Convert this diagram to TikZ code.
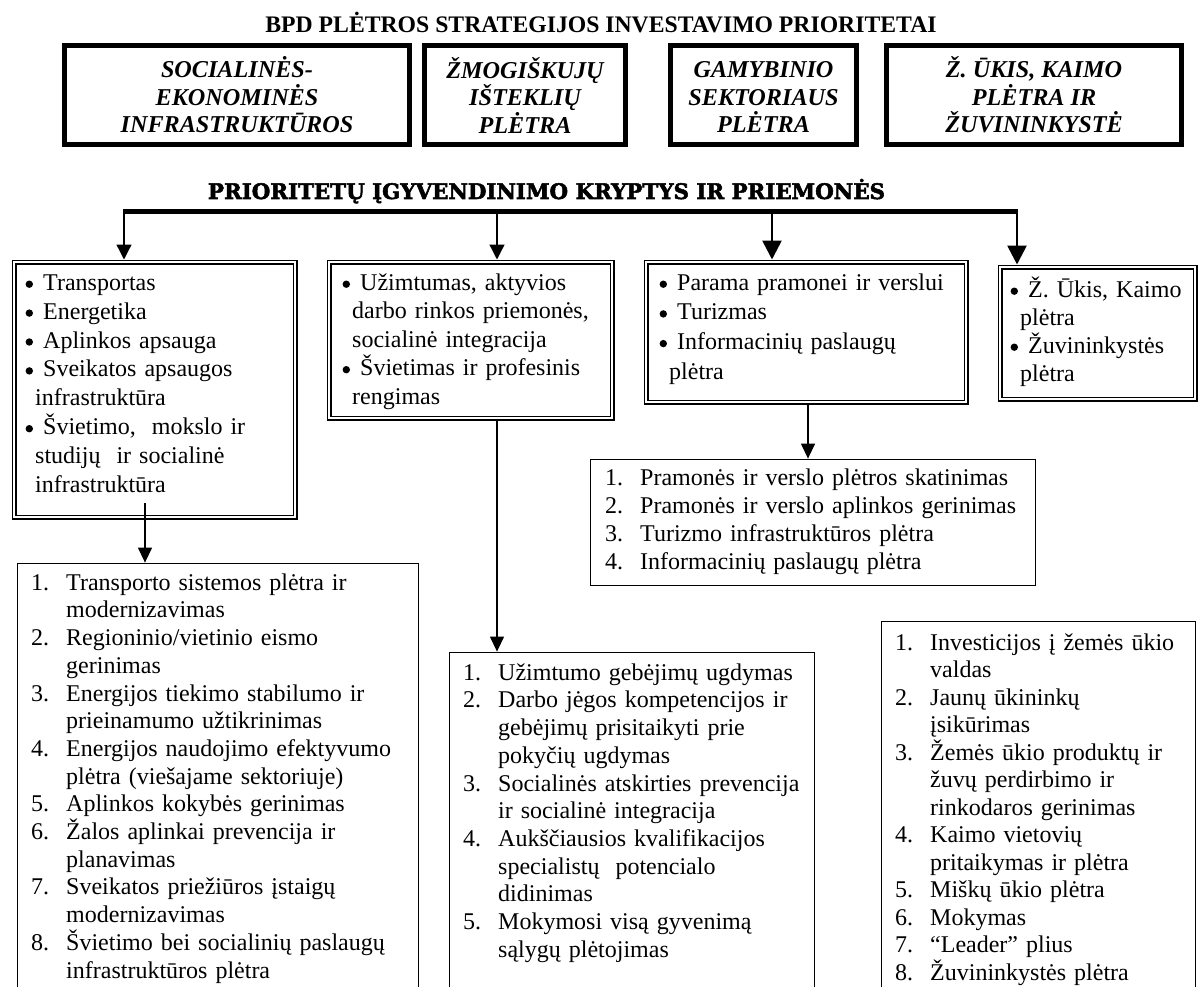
\documentclass[tikz,border=0pt]{standalone}
\usepackage{fontspec}
\setmainfont{Liberation Serif}
\newfontfamily\heavyfont[BoldFeatures={FakeBold=2.5}]{DejaVu Serif}
\usetikzlibrary{arrows.meta}
\newcommand{\lbul}{\makebox[18pt][l]{\hspace{0.4pt}\tikz[baseline=0pt,x=1pt,y=1pt]\fill (0,6) circle (3.7pt);}}
\newcommand{\lcont}{\hspace*{10pt}}
\newcommand{\lnum}[1]{\makebox[35pt][l]{#1}}
\newcommand{\lncont}{\hspace*{35pt}}
\newcommand{\fstrut}{\rule{0pt}{25pt}}
\begin{document}
\begin{tikzpicture}[x=1pt,y=-1pt,
  topbox/.style={draw, line width=5pt, inner sep=0pt, outer sep=0pt, anchor=north west, align=center,
    font=\fontsize{24.2}{27.5}\selectfont\bfseries\itshape},
  dblbox/.style={draw, line width=1.2pt, double, double distance=2.6pt, inner sep=0pt, outer sep=2.5pt, anchor=north west},
  numbox/.style={draw, line width=1.3pt, inner sep=0pt, outer sep=0.65pt, anchor=north west},
  listtext/.style={inner sep=0pt, anchor=north west, align=left, text width=420pt,
    font=\fontsize{24}{#1}\selectfont},
  bigarrow/.style={line width=2.7pt, -{Triangle[width=19pt,length=19pt]}},
  thinarrow/.style={line width=1.3pt, -{Triangle[width=15pt,length=15pt]}},
  conn/.style={line width=1.3pt, -{Triangle[width=14pt,length=15pt]}},
  bus/.style={line width=5pt}
]
\useasboundingbox (0,0) rectangle (1199,987);
\clip (0,0) rectangle (1199,987);
\fill[white] (0,0) rectangle (1199,987);

% titles
\node[anchor=base, inner sep=0pt, font=\fontsize{23.7}{23.7}\selectfont\bfseries] (t1) at (601,33)
  {BPD PLĖTROS STRATEGIJOS INVESTAVIMO PRIORITETAI};
\node[anchor=base, inner sep=0pt] (t2) at (546.5,199)
  {\resizebox{677pt}{!}{\heavyfont\bfseries\fontsize{22}{22}\selectfont PRIORITETŲ ĮGYVENDINIMO KRYPTYS IR PRIEMONĖS}};

% top priority boxes
\node[topbox, minimum width=345pt, minimum height=99pt] (p1) at (64.5,45.5)
  {\rule{0pt}{21pt}SOCIALINĖS-\\EKONOMINĖS\\INFRASTRUKTŪROS};
\node[topbox, minimum width=201pt, minimum height=99pt] (p2) at (424.5,45.5)
  {\rule{0pt}{21pt}ŽMOGIŠKUJŲ\\IŠTEKLIŲ\\PLĖTRA};
\node[topbox, minimum width=186pt, minimum height=99pt] (p3) at (670.5,45.5)
  {\rule{0pt}{21pt}GAMYBINIO\\SEKTORIAUS\\PLĖTRA};
\node[topbox, minimum width=295pt, minimum height=99pt] (p4) at (886.5,45.5)
  {\rule{0pt}{21pt}Ž. ŪKIS, KAIMO\\PLĖTRA IR\\ŽUVININKYSTĖ};

% bullet boxes
\node[dblbox, minimum width=281pt, minimum height=255pt] (b1) at (11.5,259.5) {};
\node[dblbox, minimum width=283pt, minimum height=156pt] (b2) at (326.5,259.5) {};
\node[dblbox, minimum width=320pt, minimum height=140pt] (b3) at (643.5,259.5) {};
\node[dblbox, minimum width=195pt, minimum height=132pt] (b4) at (997.5,264.5) {};

\node[listtext=28.9] (b1t) at (25,265) {\fstrut\lbul Transportas\\
  \lbul Energetika\\
  \lbul Aplinkos apsauga\\
  \lbul Sveikatos apsaugos\\
  \lcont infrastruktūra\\
  \lbul Švietimo,\ \ mokslo ir\\
  \lcont studijų\ \ ir socialinė\\
  \lcont infrastruktūra};
\node[listtext=28.5] (b2t) at (342,265) {\fstrut\lbul Užimtumas, aktyvios\\
  \lcont darbo rinkos priemonės,\\
  \lcont socialinė integracija\\
  \lbul Švietimas ir profesinis\\
  \lcont rengimas};
\node[listtext=29.7] (b3t) at (659,265) {\fstrut\lbul Parama pramonei ir verslui\\
  \lbul Turizmas\\
  \lbul Informacinių paslaugų\\
  \lcont plėtra};
\node[listtext=28] (b4t) at (1010,272) {\fstrut\lbul Ž. Ūkis, Kaimo\\
  \lcont plėtra\\
  \lbul Žuvininkystės\\
  \lcont plėtra};

% numbered boxes
\node[numbox, minimum width=401pt, minimum height=500pt] (n1) at (16.6,562.6) {};
\node[numbox, minimum width=365pt, minimum height=500pt] (n2) at (448.6,651.6) {};
\node[numbox, minimum width=445pt, minimum height=126pt] (n3) at (589.6,458.6) {};
\node[numbox, minimum width=314pt, minimum height=500pt] (n4) at (880.6,620.6) {};

\node[listtext=27.7] (n1t) at (31,565) {\fstrut\lnum{1.}Transporto sistemos plėtra ir\\
  \lncont modernizavimas\\
  \lnum{2.}Regioninio/vietinio eismo\\
  \lncont gerinimas\\
  \lnum{3.}Energijos tiekimo stabilumo ir\\
  \lncont prieinamumo užtikrinimas\\
  \lnum{4.}Energijos naudojimo efektyvumo\\
  \lncont plėtra (viešajame sektoriuje)\\
  \lnum{5.}Aplinkos kokybės gerinimas\\
  \lnum{6.}Žalos aplinkai prevencija ir\\
  \lncont planavimas\\
  \lnum{7.}Sveikatos priežiūros įstaigų\\
  \lncont modernizavimas\\
  \lnum{8.}Švietimo bei socialinių paslaugų\\
  \lncont infrastruktūros plėtra};
\node[listtext=27.7] (n2t) at (463,655) {\fstrut\lnum{1.}Užimtumo gebėjimų ugdymas\\
  \lnum{2.}Darbo jėgos kompetencijos ir\\
  \lncont gebėjimų prisitaikyti prie\\
  \lncont pokyčių ugdymas\\
  \lnum{3.}Socialinės atskirties prevencija\\
  \lncont ir socialinė integracija\\
  \lnum{4.}Aukščiausios kvalifikacijos\\
  \lncont specialistų\ \ potencialo\\
  \lncont didinimas\\
  \lnum{5.}Mokymosi visą gyvenimą\\
  \lncont sąlygų plėtojimas};
\node[listtext=28] (n3t) at (605,460) {\fstrut\lnum{1.}Pramonės ir verslo plėtros skatinimas\\
  \lnum{2.}Pramonės ir verslo aplinkos gerinimas\\
  \lnum{3.}Turizmo infrastruktūros plėtra\\
  \lnum{4.}Informacinių paslaugų plėtra};
\node[listtext=27.5] (n4t) at (895,625) {\fstrut\lnum{1.}Investicijos į žemės ūkio\\
  \lncont valdas\\
  \lnum{2.}Jaunų ūkininkų\\
  \lncont įsikūrimas\\
  \lnum{3.}Žemės ūkio produktų ir\\
  \lncont žuvų perdirbimo ir\\
  \lncont rinkodaros gerinimas\\
  \lnum{4.}Kaimo vietovių\\
  \lncont pritaikymas ir plėtra\\
  \lnum{5.}Miškų ūkio plėtra\\
  \lnum{6.}Mokymas\\
  \lnum{7.}“Leader” plius\\
  \lnum{8.}Žuvininkystės plėtra};

% bus and drops
\coordinate (j1) at (124,212);
\coordinate (j2) at (497,212);
\coordinate (j3) at (772,212);
\coordinate (j4) at (1017,212);
\draw[bus] ([xshift=-0.7pt]j1) -- ([xshift=1.3pt]j4);
\draw[thinarrow] (j1) -- (j1 |- b1.north);
\draw[thinarrow] (j2) -- (j2 |- b2.north);
\draw[bigarrow] (j3) -- (j3 |- b3.north);
\draw[bigarrow] (j4) -- (j4 |- b4.north);

% lower connectors
\coordinate (s1) at (145,503);
\coordinate (s3) at (808,0);
\draw[conn] (s1) -- (s1 |- n1.north);
\draw[conn] (j2 |- b2.south) -- (j2 |- n2.north);
\draw[conn] (s3 |- b3.south) -- (s3 |- n3.north);
\end{tikzpicture}
\end{document}
